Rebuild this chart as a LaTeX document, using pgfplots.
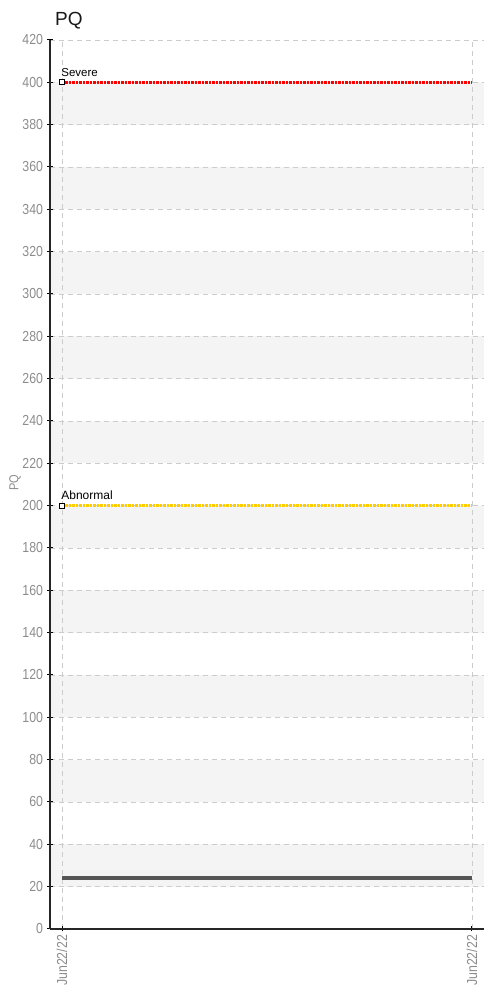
\documentclass[border=0pt]{standalone}
\usepackage{fontspec}
\setmainfont{Liberation Sans}
\newfontfamily\condfont{Liberation Sans}[FakeStretch=0.85]
\usepackage{pgfplots}
\pgfplotsset{compat=1.18}
\definecolor{bandgray}{HTML}{F4F4F4}
\definecolor{gridgray}{HTML}{CCCCCC}
\definecolor{ticklab}{HTML}{8C8C8C}
\definecolor{sevred}{HTML}{FF0000}
\definecolor{abnyel}{HTML}{FFCC00}
\definecolor{valgray}{HTML}{555555}
\begin{document}
\begin{tikzpicture}
\begin{axis}[
  set layers,
  at={(0pt,0pt)}, anchor=south west,
  scale only axis, width=434pt, height=889pt,
  xmin=-0.0293, xmax=1.0293, ymin=0, ymax=420,
  axis x line*=bottom, axis y line*=left,
  axis line style={-, color=black!85, line width=1.1pt},
  xtick={0,1}, xticklabels={Jun22/22,Jun22/22},
  ytick={0,20,...,420},
  tick align=center, major tick length=5pt,
  tick style={black, line width=1pt},
  /pgf/number format/assume math mode=true,
  ticklabel style={font=\condfont\fontsize{14.5}{14.5}\selectfont, text=ticklab},
  xticklabel style={rotate=90, anchor=east},
  yticklabel style={xshift=-1pt},
  grid=major,
  major grid style={gridgray, line width=0.8pt, dash pattern=on 5pt off 4pt},
  clip=false,
]
% alternating bands
\addplot[fill=bandgray, draw=none, on layer=axis background] coordinates {(-0.0293,20) (1.0293,20) (1.0293,40) (-0.0293,40)} -- cycle;
\addplot[fill=bandgray, draw=none, on layer=axis background] coordinates {(-0.0293,60) (1.0293,60) (1.0293,80) (-0.0293,80)} -- cycle;
\addplot[fill=bandgray, draw=none, on layer=axis background] coordinates {(-0.0293,100) (1.0293,100) (1.0293,120) (-0.0293,120)} -- cycle;
\addplot[fill=bandgray, draw=none, on layer=axis background] coordinates {(-0.0293,140) (1.0293,140) (1.0293,160) (-0.0293,160)} -- cycle;
\addplot[fill=bandgray, draw=none, on layer=axis background] coordinates {(-0.0293,180) (1.0293,180) (1.0293,200) (-0.0293,200)} -- cycle;
\addplot[fill=bandgray, draw=none, on layer=axis background] coordinates {(-0.0293,220) (1.0293,220) (1.0293,240) (-0.0293,240)} -- cycle;
\addplot[fill=bandgray, draw=none, on layer=axis background] coordinates {(-0.0293,260) (1.0293,260) (1.0293,280) (-0.0293,280)} -- cycle;
\addplot[fill=bandgray, draw=none, on layer=axis background] coordinates {(-0.0293,300) (1.0293,300) (1.0293,320) (-0.0293,320)} -- cycle;
\addplot[fill=bandgray, draw=none, on layer=axis background] coordinates {(-0.0293,340) (1.0293,340) (1.0293,360) (-0.0293,360)} -- cycle;
\addplot[fill=bandgray, draw=none, on layer=axis background] coordinates {(-0.0293,380) (1.0293,380) (1.0293,400) (-0.0293,400)} -- cycle;
% value line
\addplot[valgray, line width=4.5pt, line cap=butt] coordinates {(0,24) (1,24)};
% thresholds
\addplot[sevred, line width=2.6pt, dash pattern=on 2.6pt off 0.9pt] coordinates {(0.008,400) (1,400)};
\addplot[abnyel, line width=2.6pt, dash pattern=on 2.6pt off 0.9pt] coordinates {(0.008,200) (1,200)};
\addplot[only marks, mark=square*, mark size=2.4pt, mark options={draw=black, fill=white, line width=0.9pt}] coordinates {(0,400) (0,200)};
\node[anchor=base west, font=\fontsize{11.5}{11.5}\selectfont, text=black, inner sep=0pt] at (axis cs:-0.002,400) [yshift=6pt] {Severe};
\node[anchor=base west, font=\fontsize{12}{12}\selectfont, text=black, inner sep=0pt] at (axis cs:-0.002,200) [yshift=6pt] {Abnormal};
\end{axis}
\node[anchor=base west, font=\fontsize{19}{19}\selectfont, text=black!90, inner sep=0pt] at (5pt,903pt) {PQ};
\node[rotate=90, font=\condfont\fontsize{13}{13}\selectfont, text=ticklab] at (-35pt,446pt) {PQ};
\pgfresetboundingbox
\useasboundingbox (-50pt,-63pt) rectangle (434pt,929pt);
\end{tikzpicture}
\end{document}
